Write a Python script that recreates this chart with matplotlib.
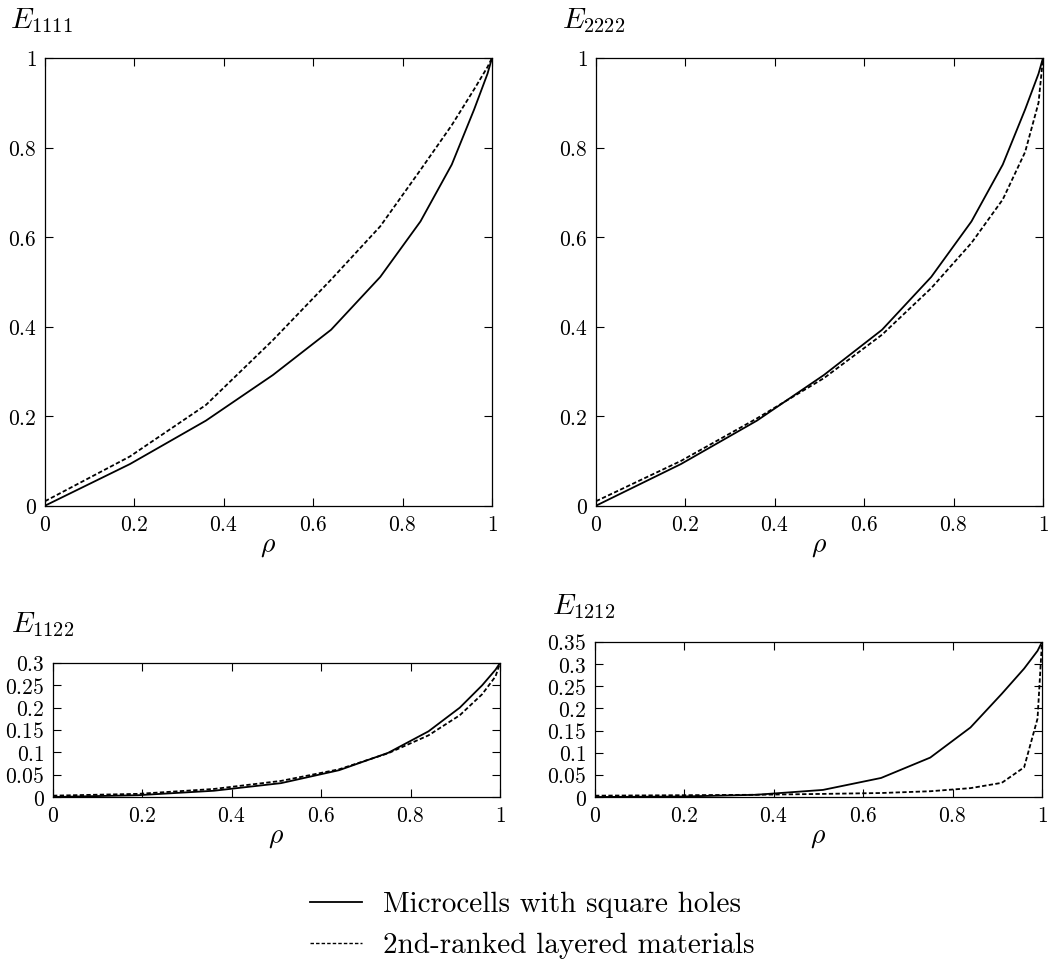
import matplotlib
matplotlib.use("Agg")
import matplotlib.pyplot as plt
from matplotlib.ticker import MultipleLocator, FuncFormatter
from matplotlib.lines import Line2D

plt.rcParams['mathtext.fontset'] = 'cm'
plt.rcParams['font.family'] = ['DejaVu Serif']

rho = [0, 0.19, 0.36, 0.51, 0.64, 0.75, 0.84, 0.91, 0.96, 0.99, 1.0]

# Microcells with square holes
e1111_cell = [0.0, 0.093, 0.19, 0.292, 0.393, 0.511, 0.635, 0.762, 0.885, 0.965, 1.0]
e2222_cell = [0.0, 0.093, 0.19, 0.292, 0.393, 0.511, 0.635, 0.762, 0.885, 0.965, 1.0]
e1122_cell = [0.0, 0.004, 0.014, 0.031, 0.06, 0.099, 0.147, 0.2, 0.25, 0.285, 0.3]
e1212_cell = [0.0, 0.001, 0.005, 0.016, 0.043, 0.089, 0.157, 0.233, 0.29, 0.33, 0.35]

# 2nd-ranked layered materials
e1111_lay = [0.01, 0.11, 0.225, 0.37, 0.505, 0.624, 0.75, 0.85, 0.93, 0.98, 1.0]
e2222_lay = [0.01, 0.1, 0.195, 0.285, 0.382, 0.486, 0.587, 0.684, 0.79, 0.9, 1.0]
e1122_lay = [0.003, 0.007, 0.018, 0.036, 0.062, 0.098, 0.138, 0.183, 0.23, 0.27, 0.3]
e1212_lay = [0.003, 0.004, 0.005, 0.007, 0.009, 0.013, 0.02, 0.032, 0.067, 0.177, 0.35]

labels = ['Microcells with square holes', '2nd-ranked layered materials']

W, H = 1049, 961
fig = plt.figure(figsize=(W / 100, H / 100), dpi=100)

def px_axes(l, t, r, b):
    return fig.add_axes([l / W, 1 - b / H, (r - l) / W, (b - t) / H])

panels = [
    (px_axes(45, 58, 492, 505.7), e1111_cell, e1111_lay, 1.0, 0.2, r'$E_{1111}$', (10, 28)),
    (px_axes(596, 58, 1043, 505.7), e2222_cell, e2222_lay, 1.0, 0.2, r'$E_{2222}$', (562, 28)),
    (px_axes(53, 663, 500, 797), e1122_cell, e1122_lay, 0.3, 0.05, r'$E_{1122}$', (11, 632)),
    (px_axes(595, 642, 1042, 797), e1212_cell, e1212_lay, 0.35, 0.05, r'$E_{1212}$', (552, 614)),
]

fmt = FuncFormatter(lambda v, p: '$%g$' % round(v, 4))
dash = (0, (2.4, 1.3))

for ax, cell, lay, ymax, ystep, title, (tx, ty) in panels:
    ax.plot(rho, cell, color='black', lw=1.3, linestyle='-')
    ax.plot(rho, lay, color='black', lw=1.3, linestyle=dash)
    ax.set_xlim(0, 1)
    ax.set_ylim(0, ymax)
    ax.xaxis.set_major_locator(MultipleLocator(0.2))
    ax.yaxis.set_major_locator(MultipleLocator(ystep))
    ax.xaxis.set_major_formatter(fmt)
    ax.yaxis.set_major_formatter(fmt)
    ax.tick_params(direction='in', top=True, right=True, length=6, width=0.8,
                   labelsize=15.5, pad=6)
    for s in ax.spines.values():
        s.set_linewidth(0.9)
    ax.set_xlabel(r'$\rho$', fontsize=20, labelpad=-3)
    fig.text(tx / W, 1 - ty / H, title, fontsize=21, va='baseline', ha='left')

handles = [Line2D([], [], color='black', lw=1.3, linestyle='-'),
           Line2D([], [], color='black', lw=1.0, linestyle=(0, (2.5, 1.5)))]
fig.legend(handles, labels, loc='center', bbox_to_anchor=(532 / W, 1 - 925 / H),
           frameon=False, prop={'family': 'cmr10', 'size': 21},
           handlelength=1.8, handletextpad=0.7, labelspacing=0.5)

fig.savefig('out.png', dpi=100)
